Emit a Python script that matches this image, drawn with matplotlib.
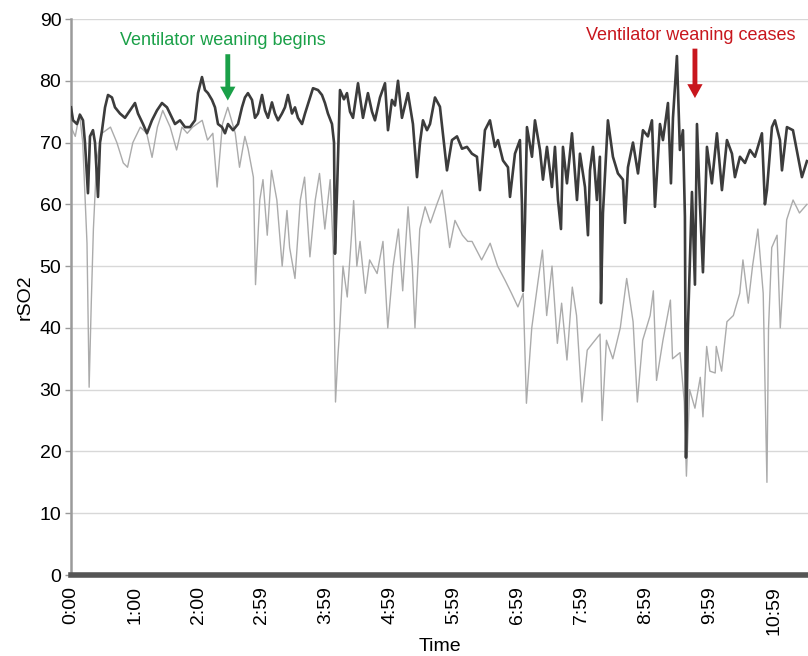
import matplotlib
matplotlib.use("Agg")
import matplotlib.pyplot as plt

plt.rcParams['font.family'] = ['Liberation Sans', 'DejaVu Sans']

# Time axis tick positions (minutes) and labels
tick_minutes = [0, 60, 120, 179, 239, 299, 359, 419, 479, 539, 599, 659]
tick_labels = ["0:00", "1:00", "2:00", "2:59", "3:59", "4:59", "5:59",
               "6:59", "7:59", "8:59", "9:59", "10:59"]

# Dark trace (upper rSO2 channel): time in minutes, value
dark_t = [0, 1.9, 5.6, 8.4, 11.25, 13.1, 15.9, 17.8, 20.6, 22.5, 25.3, 27.2, 29.1,
          31.9, 34.7, 38.4, 41.25, 45.9, 50.6, 55.3, 60, 62.8, 67.5, 71.25, 75.9,
          80.6, 85.3, 90, 92.8, 97.5, 102.2, 106.9, 111.6, 116.25, 119.1, 122.8,
          125.6, 128.4, 132.2, 135, 137.8, 141.6, 144.4, 147.2, 151.9, 156.6, 160.3,
          163.1, 165.9, 169.7, 172.5, 175.3, 179.1, 181.9, 184.7, 188.4, 191.25,
          194.1, 197.8, 200.6, 203.4, 207.2, 210, 212.8, 216.6, 219.4, 224.1, 226.9,
          231.6, 235.3, 238.1, 240.9, 244.7, 246.6, 247.5, 249.4, 252.2, 255.9,
          258.75, 261.6, 264.4, 269.1, 273.75, 278.4, 282.2, 285, 289.7, 294.4,
          297.2, 300.9, 303.75, 306.6, 310.3, 313.1, 315.9, 320.6, 324.4, 327.2, 330,
          333.75, 336.6, 341.25, 345.9, 352.5, 357.2, 361.9, 366.6, 371.25, 375.9,
          380.6, 383.4, 388.1, 392.8, 397.5, 400.3, 405, 409.7, 411.6, 416.25, 420.9,
          422.8, 423.75, 425.6, 427.5, 432.2, 435, 439.7, 442.5, 446.25, 450.9,
          453.75, 456.6, 459.4, 461.25, 465, 469.7, 474.4, 477.2, 481.9, 484.7, 486.6,
          489.4, 493.1, 495.9, 496.9, 498.75, 503.4, 508.1, 512.8, 517.5, 519.4,
          522.2, 526.9, 531.6, 536.25, 540.9, 544.7, 547.5, 552.2, 555, 559.7, 562.5,
          564.4, 568.1, 570.9, 573.75, 575.6, 576.6, 578.4, 582.2, 585, 586.9, 589.7,
          592.5, 596.25, 600.9, 605.6, 610.3, 615, 619.7, 622.5, 627.2, 631.9, 636.6,
          641.25, 647.8, 650.6, 652.5, 657.2, 660, 664.7, 666.6, 671.25, 676.9,
          681.6, 685.3, 690]
dark_v = [75.7, 73.6, 73, 74.5, 73.6, 70, 61.8, 71, 72, 70, 61.2, 70, 72, 75.7, 77.7,
          77.3, 75.7, 74.7, 74, 75.2, 76.4, 74.7, 73, 71.5, 73.6, 75.2, 76.4, 75.7,
          74.7, 73, 73.6, 72.5, 72.5, 73.6, 78, 80.6, 78.5, 78, 76.9, 75.7, 73, 72.5,
          71.5, 73, 72, 73, 75.7, 77.3, 78, 76.9, 74, 74.7, 77.7, 75.2, 74, 76.5,
          74.7, 73.6, 74.7, 75.7, 77.7, 74.7, 75.7, 74, 73, 74.7, 77.3, 78.8, 78.5,
          77.7, 76.4, 74.7, 73, 70, 52, 62, 78.5, 77, 78, 75, 74, 79.6, 74, 78, 75,
          73.6, 77.3, 79.6, 72, 76.9, 76, 80, 74, 76, 78, 73, 64.4, 70, 73.6, 72, 73,
          77.3, 75.8, 65.5, 70.4, 71, 69, 69.3, 68.2, 67.7, 62.3, 72, 73.6, 69.3,
          70.4, 67.1, 66, 61.2, 68.2, 70.4, 60, 46, 57, 72.5, 67.7, 73.6, 68.8, 64,
          69.3, 62.8, 69.3, 60.7, 56, 69.3, 63.4, 71.5, 60.7, 68.2, 62.8, 55, 65.5,
          69.3, 60.7, 67.7, 44, 58.6, 73.6, 67.7, 65, 64, 57, 66, 70, 65, 72, 71,
          73.6, 59.6, 73, 70.4, 76.4, 63.4, 74, 84, 68.8, 72, 58, 19, 40, 62, 47, 73,
          60, 49, 69.3, 63.4, 71.5, 62.3, 70.4, 68.2, 64.4, 67.7, 66.7, 68.8, 67.7,
          71.5, 60, 62.3, 72.5, 73.6, 70.4, 65.5, 72.5, 72, 67.7, 64.4, 67]

# Light trace (lower rSO2 channel): time in minutes, value
light_t = [0, 4, 8, 11, 15, 17, 19, 21, 24, 29, 37, 43, 49, 53, 58, 65, 71, 76, 81,
           86, 93, 99, 104, 109, 114, 123, 128, 133, 137, 142, 147, 154, 158, 163,
           166, 171, 173, 177, 180, 184, 188, 193, 198, 202.5, 205, 210, 215, 219,
           224, 229, 233, 238, 243, 246, 248, 250, 252, 255, 259, 263, 265, 268, 271,
           276, 280, 287, 292.5, 297, 302, 307, 311, 316, 320, 322.5, 327, 332, 337,
           343, 348, 351, 355, 360, 367, 372, 376, 385, 393, 400, 407, 413, 419, 424,
           427, 432, 438, 442, 446, 451, 456, 460, 465, 470, 474, 479, 484, 489, 496,
           498, 502, 508, 515, 521, 527, 531, 536, 543, 546, 549, 555, 562, 564, 571,
           575, 577, 580, 585, 590, 592.5, 596, 599, 604, 605, 610, 615, 621, 627, 630,
           635, 639, 644, 649, 652.5, 654, 657, 662, 665, 671, 677, 683, 690]
light_v = [72.5, 71, 74.7, 70, 53.7, 30.4, 44, 56, 67, 71.5, 72.5, 70, 66.7, 66, 70,
           72.5, 71.5, 67.6, 72.5, 75.2, 72.5, 68.8, 72.5, 71.5, 72.5, 73.6, 70.4,
           71.5, 62.8, 73, 75.7, 71.5, 66, 71, 69, 64.4, 47, 60.7, 64, 55, 65.5, 60.7,
           50, 59, 53, 48, 60.7, 64.4, 51.5, 60.7, 65, 56, 64, 52, 28, 34.8, 40, 50,
           45, 55, 60.6, 50, 54, 45.6, 51, 48.8, 54, 40, 50, 56, 46, 59.6, 50, 40, 56,
           59.6, 57, 60, 62.3, 58.6, 53, 57.4, 55, 54, 54, 51, 53.7, 50, 47.7, 45.6,
           43.4, 45.6, 27.8, 40, 47.7, 52.6, 42, 50, 37.5, 44, 34.8, 46.6, 42, 28,
           36.4, 37.5, 39, 25, 38, 35, 40, 48, 41, 28, 38, 42, 46, 31.5, 38, 44.5, 35,
           36, 28, 16, 30, 27, 32, 25.6, 37, 33, 32.7, 37, 33, 41, 42, 45.6, 51, 44,
           50, 56, 45.6, 15, 40, 53, 55, 40, 57.5, 60.7, 58.6, 60]

y_ticks = [0, 10, 20, 30, 40, 50, 60, 70, 80, 90]

fig = plt.figure(figsize=(8.08, 6.56), dpi=100)
ax = fig.add_axes([71 / 808, 1 - 575 / 656, 1 - 71 / 808, (575 - 19) / 656])

for yv in y_ticks[1:]:
    ax.axhline(yv, color='#d8d8d8', lw=1.0, zorder=1)

ax.plot(light_t, light_v, color='#ababab', lw=1.0, zorder=2)
ax.plot(dark_t, dark_v, color='#3c3c3c', lw=1.9, zorder=3)

ax.set_xlim(0, 691)
ax.set_ylim(0, 90)
ax.set_yticks(y_ticks)
ax.set_xticks(tick_minutes)
ax.set_xticklabels(tick_labels, rotation=90)
ax.tick_params(axis='x', length=0, pad=8, labelsize=14)
ax.tick_params(axis='y', length=4, width=1, color='#999999', pad=3, labelsize=14)

for s in ['top', 'right']:
    ax.spines[s].set_visible(False)
ax.spines['left'].set_color('#9a9a9a')
ax.spines['left'].set_linewidth(1.8)
ax.spines['bottom'].set_color('#555555')
ax.spines['bottom'].set_linewidth(4)

ax.set_xlabel("Time", fontsize=14, labelpad=2)
ax.set_ylabel("rSO2", fontsize=14, labelpad=4)

ax.annotate("", xy=(147, 76.8), xytext=(147, 84.3),
            arrowprops=dict(facecolor='#1aa048', edgecolor='none', width=3.5,
                            headwidth=11, headlength=10))
ax.text(142, 86.6, "Ventilator weaning begins", color='#1aa048', fontsize=13,
        ha='center', va='center')

ax.annotate("", xy=(585, 77.2), xytext=(585, 85.2),
            arrowprops=dict(facecolor='#c8161d', edgecolor='none', width=3.5,
                            headwidth=11, headlength=10))
ax.text(581, 87.3, "Ventilator weaning ceases", color='#c8161d', fontsize=13,
        ha='center', va='center')

fig.savefig("out.png", dpi=100)
